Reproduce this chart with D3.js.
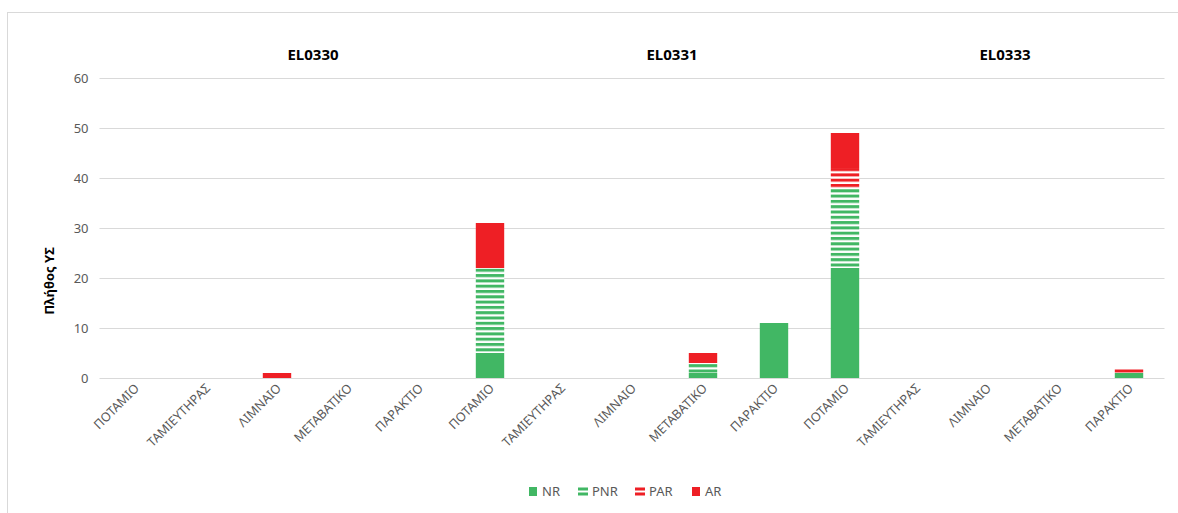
<!DOCTYPE html>
<html>
<head>
<meta charset="utf-8">
<script src="https://cdn.jsdelivr.net/npm/d3@7"></script>
<style>
  body { margin: 0; background: #fff; }
  text { font-family: "Noto Sans", "Open Sans", sans-serif; }
</style>
</head>
<body>
<div id="chart"></div>
<script>
// categories (x axis), 5 per district
var groups = ["EL0330", "EL0331", "EL0333"];
var types = ["ΠΟΤΑΜΙΟ", "ΤΑΜΙΕΥΤΗΡΑΣ", "ΛΙΜΝΑΙΟ", "ΜΕΤΑΒΑΤΙΚΟ", "ΠΑΡΑΚΤΙΟ"];
var seriesNames = ["NR", "PNR", "PAR", "AR"];

// series values, one per category (groups x types)
var NR  = [0, 0, 0, 0, 0,   5, 0, 0, 1, 11,   22, 0, 0, 0, 1];
var PNR = [0, 0, 0, 0, 0,  17, 0, 0, 2, 0,    16, 0, 0, 0, 0];
var PAR = [0, 0, 0, 0, 0,   0, 0, 0, 0, 0,     4, 0, 0, 0, 1];
var AR  = [0, 0, 1, 0, 0,   9, 0, 0, 2, 0,     7, 0, 0, 0, 0];

var yTicks = [0, 10, 20, 30, 40, 50, 60];

var W = 1178, H = 513;
var margin = {top: 78, left: 99.5, right: 13.5, bottom: 135};
var width = W - margin.left - margin.right,
    height = H - margin.top - margin.bottom;

var svg = d3.select("#chart").append("svg")
    .attr("width", W).attr("height", H);

// outer chart border
svg.append("rect")
    .attr("x", 7.5).attr("y", 12.5)
    .attr("width", 1180).attr("height", 510)
    .attr("fill", "none").attr("stroke", "#d9d9d9").attr("stroke-width", 1);

var defs = svg.append("defs");
function stripes(id, color) {
  var p = defs.append("pattern")
      .attr("id", id)
      .attr("patternUnits", "userSpaceOnUse")
      .attr("width", 8).attr("height", 5.3);
  p.append("rect").attr("width", 8).attr("height", 5.3).attr("fill", "#fff");
  p.append("rect").attr("y", 0).attr("width", 8).attr("height", 3).attr("fill", color);
}
stripes("pnr", "#41b764");
stripes("par", "#ee1f25");

var fills = {NR: "#41b764", PNR: "url(#pnr)", PAR: "url(#par)", AR: "#ee1f25"};
var legendFills = {NR: "#41b764", PNR: "#41b764", PAR: "#ee1f25", AR: "#ee1f25"};

var g = svg.append("g")
    .attr("transform", "translate(" + margin.left + "," + margin.top + ")");

var cats = [];
groups.forEach(function(gr) {
  types.forEach(function(t) { cats.push(gr + "|" + t); });
});

var x = d3.scaleBand().domain(cats).range([0, width]).paddingInner(0.6).paddingOuter(0.3);
var y = d3.scaleLinear().domain([0, 60]).range([height, 0]);

// gridlines
g.selectAll(".grid").data(yTicks).enter().append("line")
    .attr("x1", 0).attr("x2", width)
    .attr("y1", function(d) { return Math.round(y(d)) + 0.5; })
    .attr("y2", function(d) { return Math.round(y(d)) + 0.5; })
    .attr("stroke", "#d9d9d9").attr("stroke-width", 1);

// y tick labels
g.selectAll(".ytick").data(yTicks).enter().append("text")
    .attr("x", -11).attr("y", function(d) { return y(d); })
    .attr("dy", "0.35em")
    .attr("text-anchor", "end")
    .attr("fill", "#595959")
    .style("font-size", "13px")
    .text(function(d) { return d; });

// stacked bars
var rows = cats.map(function(c, i) {
  return {cat: c, NR: NR[i], PNR: PNR[i], PAR: PAR[i], AR: AR[i]};
});
var stack = d3.stack().keys(seriesNames)(rows);

g.selectAll(".series").data(stack).enter().append("g")
    .attr("fill", function(d) { return fills[d.key]; })
  .selectAll("rect")
    .data(function(d) { return d.filter(function(e) { return e[1] > e[0]; }); })
    .enter().append("rect")
      .attr("x", function(d) { return x(d.data.cat); })
      .attr("y", function(d) { return y(d[1]); })
      .attr("width", x.bandwidth())
      .attr("height", function(d) { return y(d[0]) - y(d[1]); });

// x tick labels, rotated
g.selectAll(".xtick").data(cats).enter().append("text")
    .attr("transform", function(d) {
      return "translate(" + (x(d) + x.bandwidth() / 2 + 5) + "," + (height + 11) + ") rotate(-45)";
    })
    .attr("text-anchor", "end")
    .attr("fill", "#595959")
    .style("font-size", "12.5px")
    .text(function(d) { return d.split("|")[1]; });

// group titles
var groupX = [313, 672, 1005];
svg.selectAll(".gtitle").data(groups).enter().append("text")
    .attr("x", function(d, i) { return groupX[i]; })
    .attr("y", 60)
    .attr("text-anchor", "middle")
    .style("font-size", "15px")
    .style("font-weight", "bold")
    .attr("fill", "#000")
    .text(function(d) { return d; });

// y axis title
svg.append("text")
    .attr("transform", "translate(54,281) rotate(-90)")
    .attr("text-anchor", "middle")
    .style("font-size", "13px")
    .style("font-weight", "bold")
    .attr("fill", "#000")
    .text("Πλήθος ΥΣ");

// legend
var legendX = [529, 578, 635, 692];
var lg = svg.selectAll(".legend").data(seriesNames).enter().append("g")
    .attr("transform", function(d, i) { return "translate(" + legendX[i] + ",486)"; });
lg.each(function(d) {
  var s = d3.select(this);
  if (d === "PNR" || d === "PAR") {
    s.append("rect").attr("x", 0).attr("y", 1.5).attr("width", 10).attr("height", 3).attr("fill", legendFills[d]);
    s.append("rect").attr("x", 0).attr("y", 6.5).attr("width", 10).attr("height", 3).attr("fill", legendFills[d]);
  } else {
    s.append("rect").attr("x", 0).attr("y", 1).attr("width", 8).attr("height", 9).attr("fill", legendFills[d]);
  }
});
lg.append("text")
    .attr("x", function(d) { return (d === "PNR" || d === "PAR") ? 14 : 13; })
    .attr("y", 5.5).attr("dy", "0.35em")
    .attr("fill", "#595959")
    .style("font-size", "13px")
    .text(function(d) { return d; });
</script>
</body>
</html>
